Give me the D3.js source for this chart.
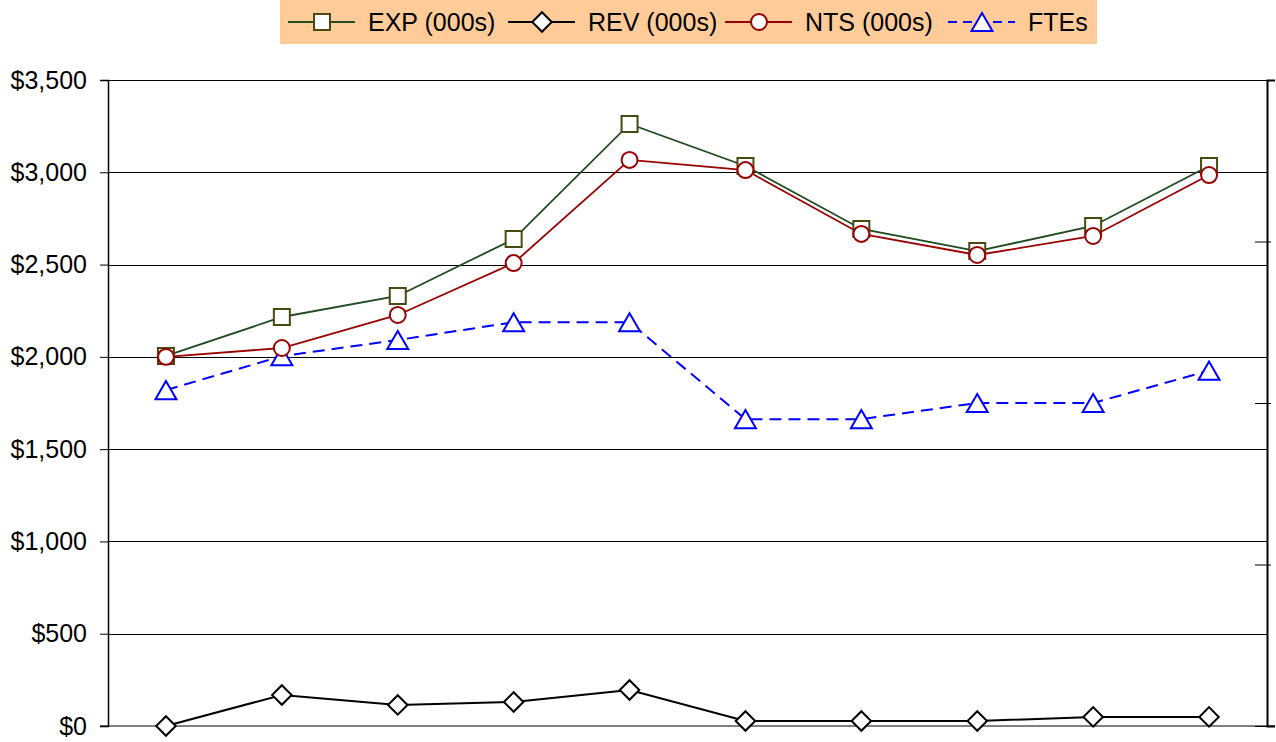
<!DOCTYPE html>
<html>
<head>
<meta charset="utf-8">
<script src="https://cdn.jsdelivr.net/npm/d3@7"></script>
<style>
  html, body { margin: 0; padding: 0; background: #ffffff; }
  svg { display: block; font-family: "Liberation Sans", Arial, sans-serif; }
</style>
</head>
<body>
<svg id="chart" width="1276" height="742"></svg>
<script>
// ---- data ----
const categories = ["1", "2", "3", "4", "5", "6", "7", "8", "9", "10"];
const expValues = [2005, 2216, 2330, 2638, 3262, 3034, 2693, 2573, 2709, 3034];
const revValues = [0, 168, 114, 130, 195, 27, 27, 27, 49, 49];
const ntsValues = [2000, 2048, 2227, 2508, 3067, 3012, 2666, 2552, 2655, 2985];
const fteValues = [20.8, 22.9, 23.9, 25, 25, 19, 19, 20, 20, 22];
const leftTicks = [0, 500, 1000, 1500, 2000, 2500, 3000, 3500];
const rightTicks = [0, 10, 20, 30, 40];
const legendLabels = ["EXP (000s)", "REV (000s)", "NTS (000s)", "FTEs"];

// ---- layout ----
const svg = d3.select("#chart");
const plotL = 108, plotR = 1267, plotT = 80, plotB = 726;

const x = d3.scaleBand().domain(categories).range([plotL, plotR]);
const xc = d => x(d) + x.bandwidth() / 2;
const yL = d3.scaleLinear().domain([0, 3500]).range([plotB, plotT]);
const yR = d3.scaleLinear().domain([0, 40]).range([plotB, plotT]);

// gridlines
svg.append("g")
  .selectAll("line").data(leftTicks.filter(t => t > 0)).join("line")
  .attr("x1", plotL).attr("x2", plotR)
  .attr("y1", d => Math.round(yL(d)) + 0.5).attr("y2", d => Math.round(yL(d)) + 0.5)
  .attr("stroke", "#000").attr("stroke-width", 1);

// bottom line
svg.append("line").attr("x1", plotL - 8).attr("x2", plotR + 8)
  .attr("y1", plotB).attr("y2", plotB)
  .attr("stroke", "#808080").attr("stroke-width", 2);

// left axis
const leftAxis = d3.axisLeft(yL).tickValues(leftTicks).tickSize(8).tickPadding(13)
  .tickFormat(d => "$" + d3.format(",")(d));
const gl = svg.append("g").attr("transform", `translate(${plotL},0)`).call(leftAxis);
gl.select(".domain").attr("stroke", "#000").attr("stroke-width", 1.5);
gl.selectAll(".tick line").attr("stroke", "#000");
gl.selectAll(".tick text").attr("font-size", 25).attr("fill", "#000")
  .attr("font-family", "Liberation Sans, Arial, sans-serif");

// right axis (labels beyond visible area)
const rightAxis = d3.axisRight(yR).tickValues(rightTicks).tickSize(8).tickFormat("");
const gr = svg.append("g").attr("transform", `translate(${plotR},0)`).call(rightAxis);
gr.select(".domain").attr("stroke", "#000").attr("stroke-width", 2);
gr.selectAll(".tick line").attr("stroke", "#000").attr("x1", -12).attr("x2", 4);

// series
function drawLine(values, yScale, color, dash, width) {
  const line = d3.line().x((d, i) => xc(categories[i])).y(d => yScale(d));
  svg.append("path").datum(values).attr("d", line)
    .attr("fill", "none").attr("stroke", color).attr("stroke-width", width)
    .attr("stroke-dasharray", dash || null);
}
drawLine(fteValues, yR, "#0000FF", "12,7", 2);
drawLine(revValues, yL, "#000000", null, 2);
drawLine(expValues, yL, "#1E4A1E", null, 1.8);
drawLine(ntsValues, yL, "#990000", null, 1.8);

const sq = d3.symbol().type(d3.symbolSquare).size(256);
const dia = d3.symbol().type(d3.symbolSquare).size(190);
const circ = d3.symbol().type(d3.symbolCircle).size(200);
const tri = d3.symbol().type(d3.symbolTriangle).size(190);
const rot = { sq: 0, dia: 45, circ: 0, tri: 0 };
const off = { sq: 0, dia: 0, circ: 0, tri: 3 };

function drawMarkers(values, yScale, sym, stroke, fill, angle, dy) {
  svg.append("g").selectAll("path").data(values).join("path")
    .attr("d", sym)
    .attr("transform", (d, i) => `translate(${xc(categories[i])},${yScale(d) + dy}) rotate(${angle})`)
    .attr("fill", fill).attr("stroke", stroke).attr("stroke-width", 2);
}
drawMarkers(fteValues, yR, tri, "#0000FF", "#ffffff", rot.tri, off.tri);
drawMarkers(revValues, yL, dia, "#000000", "#ffffff", rot.dia, off.dia);
drawMarkers(expValues, yL, sq, "#4A4A10", "#ffffff", rot.sq, off.sq);
drawMarkers(ntsValues, yL, circ, "#990000", "#ffffff", rot.circ, off.circ);

// legend
const lg = svg.append("g");
lg.append("rect").attr("x", 280).attr("y", 0).attr("width", 817).attr("height", 44).attr("fill", "#FFCC99");
const items = [
  { label: legendLabels[0], x: 288, sym: sq, k: "sq", stroke: "#4A4A10", line: "#1E4A1E", dash: null },
  { label: legendLabels[1], x: 508, sym: dia, k: "dia", stroke: "#000000", line: "#000000", dash: null },
  { label: legendLabels[2], x: 725, sym: circ, k: "circ", stroke: "#990000", line: "#990000", dash: null },
  { label: legendLabels[3], x: 948, sym: tri, k: "tri", stroke: "#0000FF", line: "#0000FF", dash: "9,6" }
];
const ly = 22;
items.forEach(it => {
  lg.append("line").attr("x1", it.x).attr("x2", it.x + 67).attr("y1", ly).attr("y2", ly)
    .attr("stroke", it.line).attr("stroke-width", 2).attr("stroke-dasharray", it.dash);
  lg.append("path").attr("d", it.sym)
    .attr("transform", `translate(${it.x + 34},${ly + off[it.k]}) rotate(${rot[it.k]})`)
    .attr("fill", "#fff").attr("stroke", it.stroke).attr("stroke-width", 2);
  lg.append("text").attr("x", it.x + 80).attr("y", ly + 9).attr("font-size", 25)
    .attr("fill", "#000").text(it.label);
});
</script>
</body>
</html>
